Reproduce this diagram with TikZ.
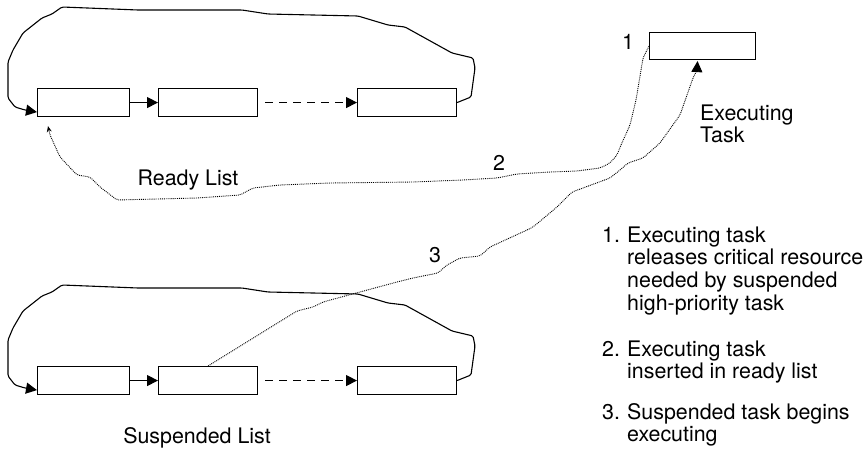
\documentclass[tikz,border=0pt]{standalone}
\usepackage{fontspec}
\setmainfont{TeX Gyre Heros}
\usetikzlibrary{arrows.meta,calc}
\newcommand\mylines[1]{\begin{tabular}[t]{@{}l@{}}#1\end{tabular}}
\begin{document}
\begin{tikzpicture}[x=1pt,y=-1pt,
  box/.style={draw, line width=1.1pt, minimum height=28pt, inner sep=0pt, anchor=north west},
  lbl/.style={font=\fontsize{21.4}{22.8}\selectfont, inner sep=0pt},
  conn/.style={line width=1.1pt, -{Triangle[length=11pt,width=11pt]}},
  dashconn/.style={conn, dash pattern=on 8pt off 6pt},
  loopline/.style={conn, rounded corners=1.5pt},
  dots/.style={densely dotted, line width=0.9pt, rounded corners=2pt}]
\useasboundingbox (0,0) rectangle (868,450);

% ready list
\node[box, minimum width=92pt] (r1) at (37,88) {};
\node[box, minimum width=99pt] (r2) at (158,88) {};
\node[box, minimum width=99pt] (r3) at (357,88) {};
% suspended list
\node[box, minimum width=92pt] (s1) at (37,366) {};
\node[box, minimum width=99pt] (s2) at (158,366) {};
\node[box, minimum width=99pt] (s3) at (357,366) {};
% executing task
\node[box, minimum width=106pt, minimum height=27pt] (ex) at (649,32) {};

\coordinate (r1in) at ($(r1.south west)+(0,-5)$);
\coordinate (s1in) at ($(s1.south west)+(0,-5)$);
\coordinate (r2dash) at ($(r2.east)+(7,0)$);
\coordinate (s2dash) at ($(s2.east)+(7,0)$);
\coordinate (extip) at ($(ex.south)+(-5,1)$);
\coordinate (r1tip) at ($(r1.south west)+(11,9)$);

\draw[conn] (r1) -- (r2);
\draw[dashconn] (r2dash) -- (r3.west);
\draw[conn] (s1) -- (s2);
\draw[dashconn] (s2dash) -- (s3.west);

\draw[loopline] (r3.east) -- (471,97) -- (475,68) -- (473,58) -- (452,53) -- (405,27) -- (388,25) -- (358,16) -- (268,14) -- (242,10) -- (138,10) -- (62,7) -- (52,14) -- (42,18) -- (23,33) -- (13,50) -- (8,62) -- (8,98) -- (15,107) -- (25,110) -- (r1in);
\begin{scope}[shift={(0,278)}]
\draw[loopline] (s3.east) -- (471,97) -- (475,68) -- (473,58) -- (452,53) -- (405,27) -- (388,25) -- (358,16) -- (268,14) -- (242,10) -- (138,10) -- (62,7) -- (52,14) -- (42,18) -- (23,33) -- (13,50) -- (8,62) -- (8,98) -- (15,107) -- (25,110) -- (s1in);
\end{scope}

% path 2: executing task inserted in ready list
\draw[dots, -{Stealth[length=6pt,width=5pt]}] (ex.west) -- (643,58) -- (636,100) -- (630,125) -- (621,145) -- (617,155) -- (610,163) -- (600,168) -- (577,171) -- (550,172) -- (517,174) -- (497,178) -- (463,180) -- (413,182) -- (330,183) -- (280,185) -- (253,188) -- (240,195) -- (197,198) -- (117,200) -- (100,187) -- (90,177) -- (77,175) -- (60,157) -- (50,135) -- (r1tip);

% path 3: suspended task begins executing
\draw[dots, -{Triangle[length=11pt,width=11pt]}] (s2.north) -- (297,311) -- (313,307) -- (323,302) -- (397,282) -- (413,278) -- (438,273) -- (447,265) -- (460,258) -- (480,256) -- (490,247) -- (527,230) -- (533,227) -- (557,207) -- (572,192) -- (583,188) -- (610,178) -- (620,170) -- (628,163) -- (643,158) -- (660,143) -- (680,115) -- (693,78) -- (697,70) -- (extip);

% labels
\node[lbl] (n1) at (628,42) {1};
\node[lbl] (n2) at (499,163) {2};
\node[lbl] (n3) at (435,255) {3};
\node[lbl, anchor=base] (rl) at (188,185) {Ready List};
\node[lbl, anchor=base] (sl) at (197,443) {Suspended List};
\node[lbl, anchor=base west] (et) at (700,120) {\mylines{Executing\\Task}};

\node[lbl, anchor=base west] (i1n) at (602,242) {1.};
\node[lbl, anchor=base west] (i1) at (627,242) {\mylines{Executing task\\releases critical resource\\needed by suspended\\high-priority task}};
\node[lbl, anchor=base west] (i2n) at (602,356) {2.};
\node[lbl, anchor=base west] (i2) at (627,356) {\mylines{Executing task\\inserted in ready list}};
\node[lbl, anchor=base west] (i3n) at (602,419) {3.};
\node[lbl, anchor=base west] (i3) at (627,419) {\mylines{Suspended task begins\\executing}};
\end{tikzpicture}
\end{document}
